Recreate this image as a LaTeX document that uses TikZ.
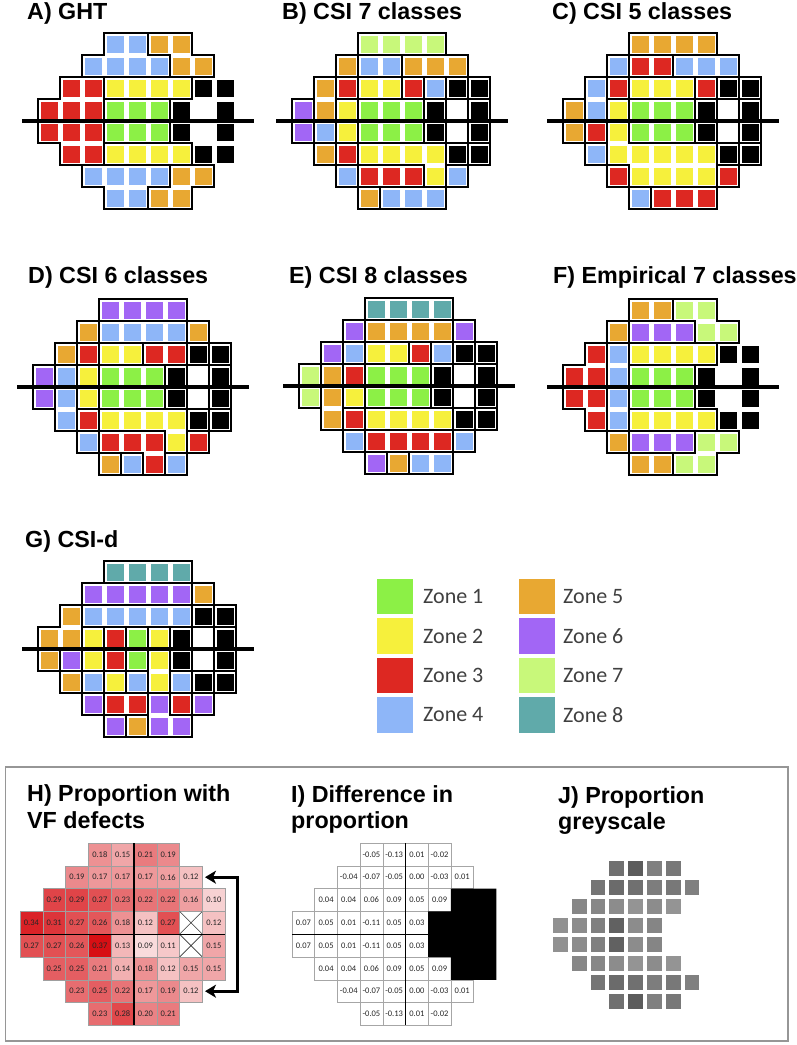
\documentclass[tikz,border=0pt]{standalone}
\usepackage{fontspec}
\setmainfont{Liberation Sans}
\newfontfamily\calib{Carlito}
\usetikzlibrary{arrows.meta}

\definecolor{zc1}{RGB}{140,240,70}
\definecolor{zc2}{RGB}{246,240,60}
\definecolor{zc3}{RGB}{221,40,34}
\definecolor{zc4}{RGB}{142,182,248}
\definecolor{zc5}{RGB}{232,168,50}
\definecolor{zc6}{RGB}{162,102,245}
\definecolor{zc7}{RGB}{200,248,122}
\definecolor{zc8}{RGB}{96,170,170}
\definecolor{zcK}{RGB}{0,0,0}
\definecolor{hred}{RGB}{215,15,20}
\definecolor{boxgray}{RGB}{150,150,150}
\definecolor{legtext}{RGB}{64,64,64}

\tikzset{
  vfline/.style={line width=1.5pt, line cap=rect, black},
  vfaxis/.style={line width=4pt, black},
  title/.style={font=\fontsize{23.3}{28}\selectfont\bfseries, inner sep=0pt, anchor=base west},
  hgrid/.style={draw=gray!75, line width=0.6pt},
  igrid/.style={draw=gray!70, line width=0.6pt, fill=white},
  xline/.style={draw=black!80, line width=0.6pt},
  thickdiv/.style={draw=black, line width=1.4pt},
  vallab/.style={font=\calib\fontsize{8.5}{9}\selectfont, text=black!85, inner sep=0pt},
  legsq/.style={minimum size=35.5pt, inner sep=0pt, draw=none},
  legtxt/.style={font=\calib\fontsize{22}{24}\selectfont, text=legtext, inner sep=0pt, anchor=west},
  brkarrow/.style={line width=3pt, black, {Stealth[length=11pt,width=13pt,inset=3pt]}-{Stealth[length=11pt,width=13pt,inset=3pt]}},
}

\ExplSyntaxOn
\int_step_inline:nnn {0}{9} { \tl_new:c {l_vf_row_#1_tl} }
\seq_new:N \l_vf_rows_seq
\bool_new:N \l_vf_draw_bool
\cs_new:Npn \vf_code:nn #1#2
  { \tl_item:cn { l_vf_row_ \int_eval:n {#1} _tl } { #2 + 2 } }
\cs_new_protected:Npn \vf_setrows:n #1
 {
   \tl_set:cn {l_vf_row_0_tl} {...........}
   \tl_set:cn {l_vf_row_9_tl} {...........}
   \seq_set_from_clist:Nn \l_vf_rows_seq {#1}
   \int_step_inline:nnn {1}{8}
     { \tl_set:cx {l_vf_row_##1_tl} { . \seq_item:Nn \l_vf_rows_seq {##1} . } }
 }
\cs_new_protected:Npn \vf_zonecheck:n #1
 { \str_case:nnF {#1} { {.}{} {K}{} {W}{} } { \bool_set_true:N \l_vf_draw_bool } }
\cs_new_protected:Npn \vf_edge:nnnn #1#2#3#4
 {
   \bool_set_false:N \l_vf_draw_bool
   \str_if_eq:nnTF {#2}{#3}
     { \int_compare:nNnT {#1} = {1} { \str_if_eq:nnT {#2}{K} { \bool_set_true:N \l_vf_draw_bool } } }
     { \int_compare:nNnTF {#1} = {1}
         { \bool_set_true:N \l_vf_draw_bool }
         { \vf_zonecheck:n {#2} \vf_zonecheck:n {#3} } }
   \bool_if:NT \l_vf_draw_bool {#4}
 }
\cs_new_protected:Npn \vf_fill:nnnnn #1#2#3#4#5
 {
   \str_case:nnF {#5} { {.}{} {W}{} }
     { \fill[zc#5]~({#1+22*(#4)+2.5},{#2+22*(#3)-19.5})~rectangle~++(17,17); }
 }
\cs_new_protected:Npn \vfpanel #1#2#3#4
 {
   \vf_setrows:n {#4}
   \int_step_inline:nnn {1}{8}
    { \int_step_inline:nnn {0}{8}
       { \use:e { \exp_not:N \vf_fill:nnnnn {#1}{#2}{##1}{####1} { \vf_code:nn {##1}{####1} } } } }
   \int_step_inline:nnn {0}{8}
    { \int_step_inline:nnn {-1}{8}
       {
         \use:e { \exp_not:N \vf_edge:nnnn {#3} { \vf_code:nn {##1}{####1} } { \vf_code:nn {##1}{####1+1} }
            { \exp_not:n { \draw[vfline]~({#1+22*(####1+1)},{#2+22*(##1-1)})~--~({#1+22*(####1+1)},{#2+22*(##1)}); } } }
         \use:e { \exp_not:N \vf_edge:nnnn {#3} { \vf_code:nn {##1}{####1} } { \vf_code:nn {##1+1}{####1} }
            { \exp_not:n { \draw[vfline]~({#1+22*(####1)},{#2+22*(##1)})~--~({#1+22*(####1+1)},{#2+22*(##1)}); } } }
       } }
   \draw[vfaxis]~({#1-16},{#2+88})~--~({#1+216},{#2+88});
 }
\ExplSyntaxOff

\def\hlist{1/3/{0.18,0.15,0.21,0.19},2/2/{0.19,0.17,0.17,0.17,0.16,0.12},3/1/{0.29,0.29,0.27,0.23,0.22,0.22,0.16,0.10},4/0/{0.34,0.31,0.27,0.26,0.18,0.12,0.27,-1,0.12},5/0/{0.27,0.27,0.26,0.37,0.13,0.09,0.11,-1,0.15},6/1/{0.25,0.25,0.21,0.14,0.18,0.12,0.15,0.15},7/2/{0.23,0.25,0.22,0.17,0.19,0.12},8/3/{0.23,0.28,0.20,0.21}}
\def\ilist{1/3/{-0.05,-0.13,0.01,-0.02},2/2/{-0.04,-0.07,-0.05,0.00,-0.03,0.01},3/1/{0.04,0.04,0.06,0.09,0.05,0.09},4/0/{0.07,0.05,0.01,-0.11,0.05,0.03},5/0/{0.07,0.05,0.01,-0.11,0.05,0.03},6/1/{0.04,0.04,0.06,0.09,0.05,0.09},7/2/{-0.04,-0.07,-0.05,0.00,-0.03,0.01},8/3/{-0.05,-0.13,0.01,-0.02}}

\begin{document}
\begin{tikzpicture}[x=1pt,y=-1pt]
\useasboundingbox[fill=white] (0,0) rectangle (797,1045);

% ---------- titles ----------
\node[title] (tA) at (27,19) {A) GHT};
\node[title] (tB) at (282,19) {B) CSI 7 classes};
\node[title] (tC) at (552,19) {C) CSI 5 classes};
\node[title] (tD) at (28,283) {D) CSI 6 classes};
\node[title] (tE) at (289,283) {E) CSI 8 classes};
\node[title] (tF) at (553,283) {F) Empirical 7 classes};
\node[title] (tG) at (25,547) {G) CSI-d};

% ---------- cluster panels ----------
\vfpanel{38}{33}{0}{...4455..,..444455.,.332222KK,333111KWK,333111KWK,.332222KK,..444455.,...4455..}
\vfpanel{292}{33}{1}{...7777..,..544555.,.532234KK,652111KWK,642111KWK,.532222KK,..433324.,...5444..}
\vfpanel{563}{33}{1}{...5555..,..433444.,.432223KK,542111KWK,532111KWK,.422222KK,..322223.,...4333..}
\vfpanel{33}{299}{1}{...6666..,..544445.,.532233KK,642111KWK,642111KWK,.432222KK,..433323.,...5434..}
\vfpanel{299}{298}{1}{...8888..,..655556.,.642234KK,753111KWK,752111KWK,.532222KK,..433334.,...6544..}
\vfpanel{563}{299}{0}{...5577..,..566677.,.342222KK,334111KWK,334111KWK,.342222KK,..566677.,...5577..}
\vfpanel{38}{561}{1}{...8888..,..666665.,.544444KK,552312KWK,562312KWK,.542424KK,..633636.,...6566..}

% ---------- legend ----------
\foreach \i/\yy in {1/596.5,2/636,3/675.5,4/715}{
  \node[legsq, fill=zc\i] (leg\i) at (395,\yy) {};
  \node[legtxt] (legt\i) at (423,\yy) {Zone \i};
}
\foreach \i/\yy in {5/596.5,6/636,7/675.5,8/715}{
  \node[legsq, fill=zc\i] (leg\i) at (537,\yy) {};
  \node[legtxt] (legt\i) at (563,\yy) {Zone \i};
}

% ---------- bottom frame ----------
\draw[boxgray, line width=1.3pt] (5.5,767) rectangle (788,1041);

\node[title] (tH1) at (27,801) {H) Proportion with};
\node[title] (tH2) at (27,828) {VF defects};
\node[title] (tI1) at (291,802) {I) Difference in};
\node[title] (tI2) at (291,828) {proportion};
\node[title] (tJ1) at (558,803) {J) Proportion};
\node[title] (tJ2) at (558,829) {greyscale};

% ---------- H panel ----------
\foreach \r/\sc/\vals in \hlist {
  \foreach \v [count=\k from \sc] in \vals {
    \pgfmathsetmacro\px{20+22.8*\k}
    \pgfmathsetmacro\py{843+22.8*(\r-1)}
    \ifdim \v pt < 0pt
      \draw[hgrid, fill=white] (\px,\py) rectangle ++(22.8,22.8);
      \draw[xline] (\px,\py) -- ++(22.8,22.8) (\px+22.8,\py) -- ++(-22.8,22.8);
    \else
      \pgfmathtruncatemacro\pp{min(100,max(0,100*((\v-0.06)/0.31)^0.8))}
      \draw[hgrid, fill=hred!\pp!white] (\px,\py) rectangle ++(22.8,22.8);
      \node[vallab] (h\r-\k) at (\px+11.4,\py+11.4) {\v};
    \fi
  }
}
\draw[thickdiv] (134,843) -- (134,1025.4);
\draw[thickdiv] (20,934.2) -- (225.2,934.2);
\coordinate (hA) at (205,877.2);
\coordinate (hA2) at (237,877.2);
\coordinate (hB2) at (237,991.2);
\coordinate (hB) at (205,991.2);
\draw[brkarrow] (hA) -- (hA2) -- (hB2) -- (hB);

% ---------- I panel ----------
\foreach \r/\sc/\vals in \ilist {
  \foreach \v [count=\k from \sc] in \vals {
    \pgfmathsetmacro\px{292+22.7*\k}
    \pgfmathsetmacro\py{843+22.8*(\r-1)}
    \draw[igrid] (\px,\py) rectangle ++(22.7,22.8);
    \node[vallab] (i\r-\k) at (\px+11.35,\py+11.4) {\v};
  }
}
\fill[black] (450.9,888.6) -- (496.3,888.6) -- (496.3,979.8) -- (450.9,979.8) -- (450.9,957) -- (428.2,957) -- (428.2,911.4) -- (450.9,911.4) -- cycle;
\draw[thickdiv] (405.5,843) -- (405.5,1025.4);
\draw[thickdiv] (292,934.2) -- (428.2,934.2);

% ---------- J panel ----------
\foreach \r/\sc/\vals in \ilist {
  \foreach \v [count=\k from \sc] in \vals {
    \pgfmathtruncatemacro\gg{51-100*\v}
    \fill[black!\gg!white] ({553+18.8*\k},{861+19*(\r-1)}) rectangle ++(14.7,14.7);
  }
}
\end{tikzpicture}
\end{document}
